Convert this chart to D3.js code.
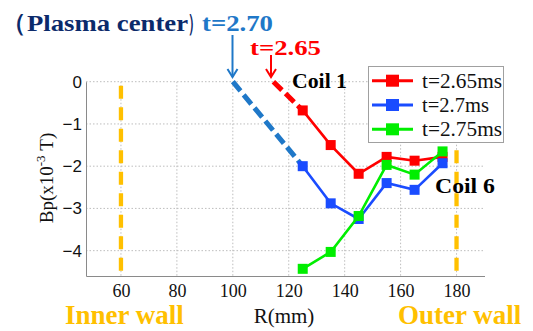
<!DOCTYPE html>
<html>
<head>
<meta charset="utf-8">
<script src="https://cdn.jsdelivr.net/npm/d3@7"></script>
<style>
  html, body { margin: 0; padding: 0; background: #fff; }
  svg { display: block; }
</style>
</head>
<body>
<svg id="chart" width="533" height="331"></svg>
<script>
// Probe radius (mm) and poloidal field Bp (x10^-3 T) at three times
const radius = [125, 135, 145, 155, 165, 175];
const bp265 = [-0.68, -1.5, -2.18, -1.78, -1.87, -1.78];
const bp270 = [-2.0, -2.88, -3.25, -2.4, -2.56, -1.93];
const bp275 = [-4.43, -4.03, -3.18, -1.97, -2.2, -1.65];
const seriesNames = ["t=2.65ms", "t=2.7ms", "t=2.75ms"];
const seriesColors = ["#ff0000", "#1a4cff", "#00ee00"];

// Estimated plasma-centre positions (Bp = 0) for t=2.65 and t=2.70
const centre265 = [114.5, 0];
const centre270 = [100, 0];

// Wall positions (mm)
const walls = [60, 180];

const xTicks = [60, 80, 100, 120, 140, 160, 180];
const yTicks = [0, -1, -2, -3, -4];

const svg = d3.select("#chart");
const plotL = 86, plotR = 484.5, plotT = 81.7, plotB = 276;

const x = d3.scaleLinear().domain([47.5, 190]).range([plotL, plotR]);
const y = d3.scaleLinear().domain([-4.6, 0]).range([plotB, plotT]);

// grid
const grid = svg.append("g").attr("stroke", "#bdbdbd").attr("stroke-width", 1).attr("stroke-dasharray", "1.5,2");
grid.selectAll(".gx").data(xTicks).join("line")
  .attr("x1", d => x(d)).attr("x2", d => x(d)).attr("y1", plotT).attr("y2", plotB);
grid.selectAll(".gy").data(yTicks).join("line")
  .attr("x1", plotL).attr("x2", plotR).attr("y1", d => y(d)).attr("y2", d => y(d));

// axes
const xAxis = svg.append("g").attr("transform", `translate(0,${plotB})`)
  .call(d3.axisBottom(x).tickValues(xTicks).tickSize(0).tickPadding(8));
xAxis.select(".domain").attr("stroke", "#8a8a8a");
xAxis.selectAll("text").attr("font-family", "Liberation Serif, serif").attr("font-size", 18).attr("fill", "#111");

const yAxis = svg.append("g").attr("transform", `translate(${plotL},0)`)
  .call(d3.axisLeft(y).tickValues(yTicks).tickSize(0).tickPadding(4).tickFormat(d => d === 0 ? "0" : "\u2212" + Math.abs(d)));
yAxis.select(".domain").attr("stroke", "#8a8a8a");
yAxis.selectAll("text").attr("font-family", "Liberation Sans, Arial, sans-serif").attr("font-size", 17).attr("fill", "#111");

// wall markers
svg.append("g").selectAll("line").data(walls).join("line")
  .attr("x1", d => x(d)).attr("x2", d => x(d))
  .attr("y1", y(0) + 4).attr("y2", plotB)
  .attr("stroke", "#ffc000").attr("stroke-width", 4.3).attr("stroke-dasharray", "13,8.5");

// extrapolated lines to plasma centre
const line = d3.line().x(d => x(d[0])).y(d => y(d[1]));
svg.append("path").datum([centre270, [radius[0], bp270[0]]])
  .attr("d", line).attr("fill", "none").attr("stroke", "#1f78c8").attr("stroke-width", 5).attr("stroke-dasharray", "12,5");
svg.append("path").datum([centre265, [radius[0], bp265[0]]])
  .attr("d", line).attr("fill", "none").attr("stroke", "#ff0000").attr("stroke-width", 5).attr("stroke-dasharray", "12,5");

// data series
const series = [bp265, bp270, bp275];
series.forEach((vals, i) => {
  const pts = radius.map((r, j) => [r, vals[j]]);
  const g = svg.append("g");
  g.append("path").datum(pts).attr("d", line).attr("fill", "none")
    .attr("stroke", seriesColors[i]).attr("stroke-width", 2.6);
  g.selectAll("rect").data(pts).join("rect")
    .attr("x", d => x(d[0]) - 5).attr("y", d => y(d[1]) - 5)
    .attr("width", 10).attr("height", 10).attr("fill", seriesColors[i]);
});

// legend
const lg = svg.append("g");
lg.append("rect").attr("x", 368.5).attr("y", 66.5).attr("width", 135).attr("height", 76)
  .attr("fill", "#fff").attr("stroke", "#a0a0a0").attr("stroke-width", 1);
seriesNames.forEach((name, i) => {
  const cy = 80.7 + i * 24.3;
  lg.append("line").attr("x1", 372).attr("x2", 413).attr("y1", cy).attr("y2", cy)
    .attr("stroke", seriesColors[i]).attr("stroke-width", 3);
  lg.append("rect").attr("x", 386).attr("y", cy - 6).attr("width", 13).attr("height", 12).attr("fill", seriesColors[i]);
  lg.append("text").attr("x", 422).attr("y", cy + 7)
    .attr("font-family", "Liberation Serif, serif").attr("font-size", 20).attr("fill", "#111")
    .attr("textLength", i === 1 ? 67 : 80).attr("lengthAdjust", "spacingAndGlyphs")
    .text(name);
});

// axis titles
svg.append("text").attr("x", 284).attr("y", 323)
  .attr("text-anchor", "middle").attr("font-family", "Liberation Serif, serif").attr("font-size", 21).attr("fill", "#111")
  .text("R(mm)");

const yl = svg.append("text").attr("transform", "translate(53,178) rotate(-90)")
  .attr("text-anchor", "middle").attr("font-family", "Liberation Serif, serif").attr("font-size", 19).attr("fill", "#111");
yl.append("tspan").text("Bp(x10");
yl.append("tspan").attr("dy", -8).attr("font-size", 13).text("-3");
yl.append("tspan").attr("dy", 8).text("\u00a0T)");

// wall labels
const wallFont = { "font-family": "Liberation Serif, serif", "font-weight": "bold", "font-size": 27, "fill": "#ffc000" };
const innerLabel = svg.append("text").attr("x", 65).attr("y", 324).text("Inner wall");
const outerLabel = svg.append("text").attr("x", 398).attr("y", 324).text("Outer wall");
[innerLabel, outerLabel].forEach(t => Object.entries(wallFont).forEach(([k, v]) => t.attr(k, v)));

// annotation texts
function label(txt, x0, base, size, len, color) {
  const t = svg.append("text").attr("x", x0).attr("y", base)
    .attr("font-family", "Liberation Serif, serif").attr("font-weight", "bold")
    .attr("font-size", size).attr("fill", color)
    .text(txt);
  if (len) t.attr("textLength", len).attr("lengthAdjust", "spacingAndGlyphs");
  return t;
}

// title line: "（Plasma center）t=2.70"
label("\uff08", 2, 31, 24, null, "#0b2a6b");
label("Plasma center", 27, 31, 24, 161, "#0b2a6b");
// closing full-width bracket, narrowed so it sits tight against the time label
svg.append("text").attr("transform", "translate(188,31) scale(0.54,1)")
  .attr("font-family", "Liberation Serif, serif").attr("font-weight", "bold")
  .attr("font-size", 24).attr("fill", "#0b2a6b").text("\uff09");
label("t=2.70", 202, 31, 24, 71, "#1f78c8");

label("t=2.65", 250, 55, 21, 71, "#ff0000");
label("Coil 1", 292, 88, 20, 55, "#000");
label("Coil 6", 435, 193, 22, 60, "#000");

// arrows to estimated centres
function arrow(xp, y1, y2, color) {
  const g = svg.append("g").attr("stroke", color).attr("stroke-width", 2).attr("fill", "none");
  g.append("line").attr("x1", xp).attr("x2", xp).attr("y1", y1).attr("y2", y2);
  g.append("path").attr("d", `M${xp - 5},${y2 - 8} L${xp},${y2} L${xp + 5},${y2 - 8}`);
}
arrow(232.5, 35, 77, "#1f78c8");
arrow(271, 55, 77, "#ff0000");
</script>
</body>
</html>
